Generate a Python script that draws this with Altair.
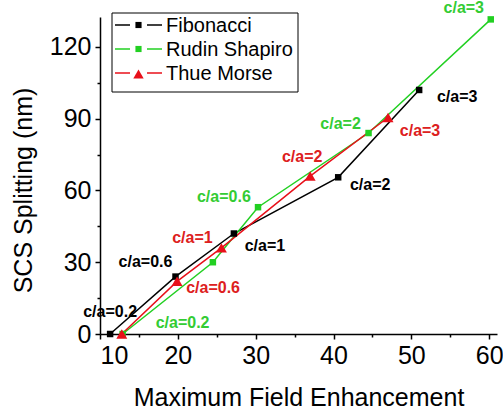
import altair as alt
import pandas as pd

# Aperiodic lattice data: c/a ratio, maximum field enhancement, SCS splitting (nm)
ca_values = [0.2, 0.6, 1, 2, 3]

fib_enh = [11.3, 19.7, 27.2, 40.6, 51.0]
fib_split = [0, 24, 42, 65.5, 102]

rs_enh = [12.9, 24.5, 30.3, 44.5, 60.2]
rs_split = [0, 30, 53, 84, 131.5]

tm_enh = [12.8, 19.9, 25.6, 37.0, 47.0]
tm_split = [0, 22, 36, 66, 90.5]

series_names = ["Fibonacci", "Rudin Shapiro", "Thue Morse"]
series_colors = ["#000000", "#22d022", "#e8101a"]
series_shapes = ["square", "square", "triangle-up"]
series_sizes = [42, 42, 120]
label_colors = {"Fibonacci": "#000000", "Rudin Shapiro": "#33cc33", "Thue Morse": "#dd2020"}

# which points carry a "c/a=..." annotation, with its pixel offset (dx, dy)
label_offsets = {
    ("Fibonacci", 0.2): (0, -22),
    ("Fibonacci", 0.6): (-30, -15),
    ("Fibonacci", 1): (31, 12),
    ("Fibonacci", 2): (32, 8),
    ("Fibonacci", 3): (38, 7),
    ("Thue Morse", 0.6): (36, 7),
    ("Thue Morse", 1): (-29, -10),
    ("Thue Morse", 2): (-8, -19),
    ("Thue Morse", 3): (32, 14),
    ("Rudin Shapiro", 0.2): (60, -11),
    ("Rudin Shapiro", 0.6): (11, -65),
    ("Rudin Shapiro", 2): (-28, -9),
    ("Rudin Shapiro", 3): (-27, -11),
}

rows = []
for name, xs, ys in [("Fibonacci", fib_enh, fib_split),
                     ("Rudin Shapiro", rs_enh, rs_split),
                     ("Thue Morse", tm_enh, tm_split)]:
    for ca, xv, yv in zip(ca_values, xs, ys):
        rows.append({"series": name, "ca": ca, "enh": xv, "split": yv,
                     "label": f"c/a={ca:g}"})
df = pd.DataFrame(rows)

FONT = "Arial, Liberation Sans, sans-serif"
X_DOMAIN = [10, 61]
Y_DOMAIN = [0, 132.5]

color_scale = alt.Scale(domain=series_names, range=series_colors)

x_main = alt.X("enh:Q", scale=alt.Scale(domain=X_DOMAIN, nice=False, zero=False),
               axis=alt.Axis(values=[10, 20, 30, 40, 50, 60], orient="bottom",
                             title="Maximum Field Enhancement", titlePadding=17,
                             labelPadding=4, tickSize=5))
y_main = alt.Y("split:Q", scale=alt.Scale(domain=Y_DOMAIN, nice=False),
               axis=alt.Axis(values=[0, 30, 60, 90, 120], orient="left",
                             title="SCS Splitting (nm)", titlePadding=13,
                             labelPadding=4, tickSize=5, titleY=173))

base = alt.Chart(df)

lines = base.mark_line(strokeWidth=1.5).encode(
    x=x_main, y=y_main,
    color=alt.Color("series:N", scale=color_scale, legend=None),
    order="ca:Q",
)

markers = []
for name, shape, size in zip(series_names, series_shapes, series_sizes):
    markers.append(
        base.transform_filter(alt.datum.series == name)
        .mark_point(shape=shape, filled=True, size=size, opacity=1)
        .encode(x=x_main, y=y_main,
                color=alt.Color("series:N", scale=color_scale, legend=None))
    )

texts = []
for (name, ca), (dx, dy) in label_offsets.items():
    texts.append(
        base.transform_filter(
            (alt.datum.series == name) & (alt.datum.ca == ca)
        ).mark_text(font=FONT, fontSize=16, fontWeight="bold",
                    color=label_colors[name], dx=dx, dy=dy,
                    align="center", baseline="middle").encode(
            x=x_main, y=y_main, text="label:N")
    )

# series key in the upper-left corner of the plot (pixel layout)
key_df = pd.DataFrame({"series": series_names})
key_box = alt.Chart(key_df).transform_filter(alt.datum.series == series_names[0]).mark_rect(
    fill="white", stroke="black", strokeWidth=1
).encode(x=alt.value(12), x2=alt.value(198), y=alt.value(-4), y2=alt.value(75))
key_layers = [key_box]
for i, (name, color, shape, size) in enumerate(
        zip(series_names, series_colors, series_shapes, series_sizes)):
    row_y = 8 + 24 * i
    one = alt.Chart(key_df).transform_filter(alt.datum.series == name)
    key_layers.append(one.mark_rule(color=color, strokeWidth=1.5).encode(
        x=alt.value(15), x2=alt.value(30), y=alt.value(row_y)))
    key_layers.append(one.mark_rule(color=color, strokeWidth=1.5).encode(
        x=alt.value(47), x2=alt.value(62), y=alt.value(row_y)))
    key_layers.append(one.mark_point(shape=shape, filled=True, opacity=1, color=color,
                                     size=size * 0.9).encode(
        x=alt.value(38.5), y=alt.value(row_y + (1 if shape == "triangle-up" else 0))))
    key_layers.append(one.mark_text(font=FONT, fontSize=20, color="black",
                                    align="left", baseline="middle").encode(
        x=alt.value(66), y=alt.value(row_y + 1), text="series:N"))

main = alt.layer(lines, *markers, *texts, *key_layers)

# minor ticks on both axes
minor = base.mark_point(opacity=0).encode(
    x=alt.X("enh:Q", axis=alt.Axis(values=[15, 25, 35, 45, 55], orient="bottom",
                                   labels=False, domain=False, tickSize=3, title=None)),
    y=alt.Y("split:Q", axis=alt.Axis(values=[15, 45, 75, 105], orient="left",
                                     labels=False, domain=False, tickSize=3, title=None)),
)

chart = alt.layer(main, minor).resolve_axis(
    x="independent", y="independent"
).properties(
    width=397, height=317,
    autosize=alt.AutoSizeParams(type="none"),
    padding={"left": 100, "top": 17, "right": 6, "bottom": 78},
    background="white",
).configure_view(
    stroke=None
).configure_axis(
    grid=False,
    domainColor="black", domainWidth=1.5,
    tickColor="black", tickWidth=1.5,
    labelFont=FONT, labelFontSize=25, labelColor="black",
    titleFont=FONT, titleFontSize=25, titleFontWeight="normal", titleColor="black",
)

chart.save("out.html", embed_options={"renderer": "svg", "actions": False})
